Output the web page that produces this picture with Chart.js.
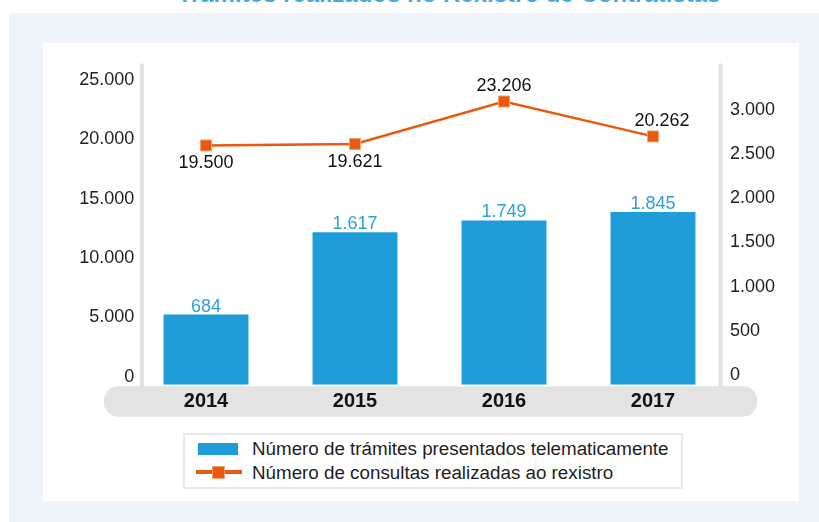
<!DOCTYPE html>
<html>
<head>
<meta charset="utf-8">
<script src="https://cdn.jsdelivr.net/npm/chart.js@4/dist/chart.umd.min.js"></script>
<style>
  html,body{margin:0;padding:0;background:#fff;width:819px;height:522px;overflow:hidden;
    font-family:"Liberation Sans", Arial, Helvetica, sans-serif;}
  #title{position:absolute;left:0;width:898px;top:-18.5px;text-align:center;font-weight:bold;
    font-size:24px;line-height:24px;color:#4aa7e4;white-space:nowrap;}
  #bluePanel{position:absolute;left:9px;top:13px;width:810px;height:509px;background:#edf4fb;}
  #whitePanel{position:absolute;left:43px;top:43px;width:756px;height:458px;background:#fff;}
  #wrap{position:absolute;left:0;top:0;width:819px;height:522px;}
  #legend{position:absolute;left:183px;top:433px;width:500px;height:56px;box-sizing:border-box;
    border:2px solid #e9e9e9;background:#fff;}
  .item{position:absolute;left:67px;font-size:18.8px;line-height:24px;color:#1e1e1e;white-space:nowrap;}
  .sw{position:absolute;}
</style>
</head>
<body>
<div id="title"></div>
<div id="bluePanel"></div>
<div id="whitePanel"></div>
<div id="wrap"><canvas id="c" width="819" height="522"></canvas></div>
<div id="legend"></div>
<script>
// ---- data ----
const chartTitle = 'Trámites realizados no Rexistro de Contratistas';
const years = ['2014', '2015', '2016', '2017'];
const tramites = [684, 1617, 1749, 1845];
const consultas = [19500, 19621, 23206, 20262];
const leftTicks = [0, 5000, 10000, 15000, 20000, 25000];
const rightTicks = [0, 500, 1000, 1500, 2000, 2500, 3000];
const seriesNames = ['Número de trámites presentados telematicamente', 'Número de consultas realizadas ao rexistro'];

// ---- styling ----
const BAR_COLOR = '#1e9dd9';
const BAR_LABEL = '#2ba0dc';
const LINE_COLOR = '#e85a0f';
const LEFT_MIN = -674, LEFT_MAX = 26425;
const RIGHT_MIN = -110, RIGHT_MAX = 3529;
const FONT = '"Liberation Sans", Arial, Helvetica, sans-serif';

document.getElementById('title').textContent = chartTitle;

const fmt = v => String(v).replace(/\B(?=(\d{3})+(?!\d))/g, '.');

// widest left tick label (to right-align labels past the chart-area edge)
const mctx = document.createElement('canvas').getContext('2d');
mctx.font = '18px ' + FONT;
const widestLeft = Math.max(...leftTicks.map(v => mctx.measureText(fmt(v)).width));

// legend (HTML)
const legend = document.getElementById('legend');
legend.innerHTML =
  '<div class="sw" style="left:13px;top:8px;width:40px;height:12px;background:' + BAR_COLOR + '"></div>' +
  '<div class="item" style="top:2.4px"></div>' +
  '<div class="sw" style="left:11px;top:35px;width:46px;height:4px;background:' + LINE_COLOR + '"></div>' +
  '<div class="sw" style="left:26.5px;top:30.5px;width:13px;height:13px;box-sizing:border-box;border:1px solid #f3a070;background:' + LINE_COLOR + '"></div>' +
  '<div class="item" style="top:26.4px"></div>';
const items = legend.querySelectorAll('.item');
items[0].textContent = seriesNames[0];
items[1].textContent = seriesNames[1];

const linePos = ['below', 'below', 'above', 'above'];
const lineDx = [0, 0, 0, 9];

const decor = {
  id: 'decor',
  beforeDraw(chart) {
    const ctx = chart.ctx, a = chart.chartArea;
    ctx.save();
    ctx.fillStyle = '#e3e3e3';
    ctx.beginPath();
    ctx.roundRect(a.left - 27.5, a.bottom + 1.5, (a.right + 29.5) - (a.left - 27.5), 30.5, 14);
    ctx.fill();
    ctx.strokeStyle = '#e2e2e2';
    ctx.lineWidth = 4;
    ctx.lineCap = 'round';
    ctx.beginPath();
    ctx.moveTo(a.left + 10.3, a.top + 2);
    ctx.lineTo(a.left + 10.3, a.bottom + 2);
    ctx.moveTo(a.right - 7, a.top + 2);
    ctx.lineTo(a.right - 7, a.bottom + 2);
    ctx.stroke();
    ctx.restore();
  },
  afterDatasetsDraw(chart) {
    const ctx = chart.ctx;
    ctx.save();
    ctx.font = '18px ' + FONT;
    ctx.textAlign = 'center';
    ctx.textBaseline = 'middle';
    const barMeta = chart.getDatasetMeta(0);
    ctx.fillStyle = BAR_LABEL;
    barMeta.data.forEach((el, i) => {
      ctx.fillText(fmt(tramites[i]), el.x, el.y - 8);
    });
    const lineMeta = chart.getDatasetMeta(1);
    ctx.fillStyle = '#111';
    lineMeta.data.forEach((el, i) => {
      const dy = linePos[i] === 'below' ? 18 : -15;
      ctx.fillText(fmt(consultas[i]), el.x + lineDx[i], el.y + dy);
    });
    ctx.restore();
  }
};

Chart.defaults.font.family = FONT;

new Chart(document.getElementById('c'), {
  data: {
    labels: years,
    datasets: [
      {
        type: 'bar',
        label: seriesNames[0],
        data: tramites,
        yAxisID: 'y1',
        backgroundColor: BAR_COLOR,
        borderWidth: 0,
        barPercentage: 0.57,
        categoryPercentage: 1,
        base: RIGHT_MIN,
        order: 2
      },
      {
        type: 'line',
        label: seriesNames[1],
        data: consultas,
        yAxisID: 'y',
        borderColor: LINE_COLOR,
        borderWidth: 2.5,
        pointStyle: 'rect',
        pointRadius: 7.8,
        pointBackgroundColor: LINE_COLOR,
        pointBorderColor: '#f3a070',
        pointBorderWidth: 1,
        tension: 0,
        fill: false,
        order: 1
      }
    ]
  },
  options: {
    responsive: false,
    animation: false,
    layout: { padding: { top: 63.3, left: 0, right: 0, bottom: 0 } },
    plugins: { legend: { display: false }, tooltip: { enabled: false } },
    scales: {
      x: {
        type: 'category',
        offset: true,
        grid: { display: false, drawTicks: false },
        border: { display: false },
        ticks: { font: { size: 20, weight: 'bold' }, color: '#111', padding: 5 },
        afterFit(s) { s.height = 137.3; }
      },
      y: {
        type: 'linear',
        position: 'left',
        min: LEFT_MIN,
        max: LEFT_MAX,
        grid: { display: false, drawTicks: false },
        border: { display: false },
        afterBuildTicks(s) { s.ticks = leftTicks.map(v => ({ value: v })); },
        ticks: { font: { size: 18 }, color: '#222', mirror: true, crossAlign: 'far',
                 padding: 2.8 - widestLeft, callback: v => fmt(v) },
        afterFit(s) { s.width = 131.5; }
      },
      y1: {
        type: 'linear',
        position: 'right',
        min: RIGHT_MIN,
        max: RIGHT_MAX,
        grid: { display: false, drawTicks: false },
        border: { display: false },
        afterBuildTicks(s) { s.ticks = rightTicks.map(v => ({ value: v })); },
        ticks: { font: { size: 18 }, color: '#222', padding: 2.5, callback: v => fmt(v) },
        afterFit(s) { s.width = 91.5; }
      }
    }
  },
  plugins: [decor]
});
</script>
</body>
</html>
